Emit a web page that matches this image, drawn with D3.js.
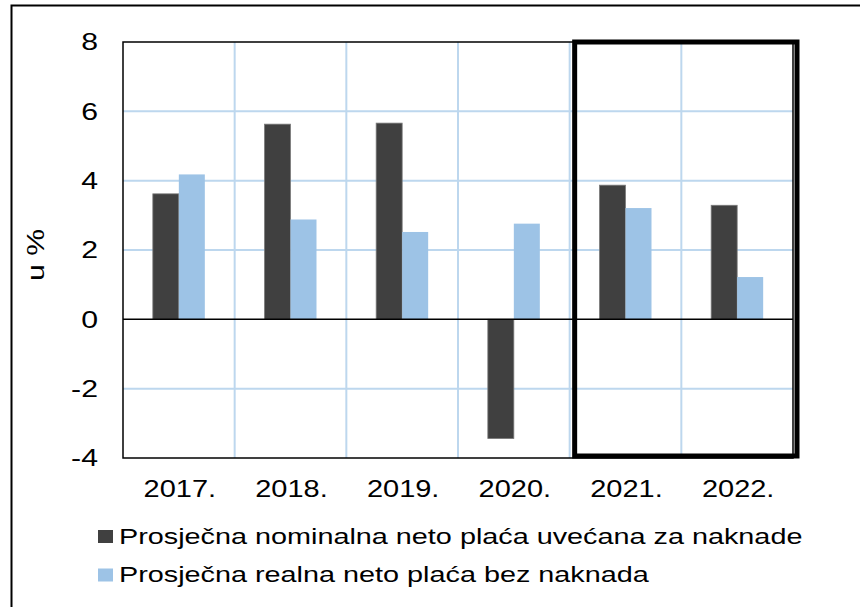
<!DOCTYPE html>
<html>
<head>
<meta charset="utf-8">
<script src="https://cdn.jsdelivr.net/npm/d3@7"></script>
<style>
  body { margin: 0; background: #fff; }
  text { font-family: "Liberation Sans", Arial, sans-serif; fill: #000; }
</style>
</head>
<body>
<div id="chart"></div>
<script>
// data
const years = ["2017.", "2018.", "2019.", "2020.", "2021.", "2022."];
const nominal = [3.62, 5.63, 5.66, -3.44, 3.87, 3.29];
const real = [4.18, 2.88, 2.52, 2.76, 3.21, 1.22];
const seriesNames = [
  "Prosječna nominalna neto plaća uvećana za naknade",
  "Prosječna realna neto plaća bez naknada"
];
const yTicks = [-4, -2, 0, 2, 4, 6, 8];

const width = 860,
  height = 607;
const colors = ["#404040", "#9DC3E6"];
const stretch = 1.26; // the picture is a bit wider than tall

const svg = d3
  .select("#chart")
  .append("svg")
  .attr("width", width)
  .attr("height", height);

// outer frame (runs off the right and bottom)
svg
  .append("rect")
  .attr("x", 11.5)
  .attr("y", 5.5)
  .attr("width", 860)
  .attr("height", 610)
  .attr("fill", "none")
  .attr("stroke", "#000")
  .attr("stroke-width", 2);

const plot = { left: 123, right: 793, top: 42, bottom: 458 };

const x = d3.scaleBand().domain(years).range([plot.left, plot.right]);
const y = d3.scaleLinear().domain([-4, 8]).range([plot.bottom, plot.top]);
const barW = 26;
const xs = d3
  .scaleBand()
  .domain([0, 1])
  .range([x.bandwidth() / 2 - barW, x.bandwidth() / 2 + barW]);

// grid
svg
  .selectAll("hgrid")
  .data(yTicks.filter((d) => d !== 0 && d !== -4 && d !== 8))
  .join("line")
  .attr("x1", plot.left)
  .attr("x2", plot.right)
  .attr("y1", (d) => y(d))
  .attr("y2", (d) => y(d))
  .attr("stroke", "#BDD7EE")
  .attr("stroke-width", 2);

svg
  .selectAll("vgrid")
  .data(years.slice(1))
  .join("line")
  .attr("x1", (d) => x(d))
  .attr("x2", (d) => x(d))
  .attr("y1", plot.top)
  .attr("y2", plot.bottom)
  .attr("stroke", "#BDD7EE")
  .attr("stroke-width", 2);

// bars
const rows = years.map((yr, i) => ({ yr, vals: [nominal[i], real[i]] }));
const groups = svg
  .selectAll("g.grp")
  .data(rows)
  .join("g")
  .attr("class", "grp")
  .attr("transform", (d) => `translate(${x(d.yr)},0)`);

groups
  .selectAll("rect")
  .data((d) => d.vals.map((v, k) => ({ v, k })))
  .join("rect")
  .attr("x", (d) => xs(d.k))
  .attr("width", xs.bandwidth())
  .attr("y", (d) => y(Math.max(0, d.v)))
  .attr("height", (d) => Math.abs(y(d.v) - y(0)))
  .attr("fill", (d) => colors[d.k])
  .attr("stroke", (d) => (d.k === 0 ? "#7a7a7a" : "none"))
  .attr("stroke-width", 0.8);

// plot border and zero line
svg
  .append("rect")
  .attr("x", plot.left)
  .attr("y", plot.top)
  .attr("width", plot.right - plot.left)
  .attr("height", plot.bottom - plot.top)
  .attr("fill", "none")
  .attr("stroke", "#000")
  .attr("stroke-width", 1.5);

svg
  .append("line")
  .attr("x1", plot.left)
  .attr("x2", plot.right)
  .attr("y1", y(0))
  .attr("y2", y(0))
  .attr("stroke", "#000")
  .attr("stroke-width", 1.5);

// highlight box around 2021-2022
const boxL = x("2021.") + 5,
  boxR = plot.right + 4;
svg
  .append("rect")
  .attr("x", boxL)
  .attr("y", y(8))
  .attr("width", boxR - boxL)
  .attr("height", y(-4) - y(8) - 2)
  .attr("fill", "none")
  .attr("stroke", "#000")
  .attr("stroke-width", 5);

// y tick labels
svg
  .selectAll("ytick")
  .data(yTicks)
  .join("text")
  .attr("text-anchor", "end")
  .attr("font-size", 24)
  .attr("dy", "0.35em")
  .attr("transform", (d) => `translate(98,${y(d)}) scale(${stretch},1)`)
  .text((d) => d);

// x labels
svg
  .selectAll("xlab")
  .data(years)
  .join("text")
  .attr("text-anchor", "middle")
  .attr("font-size", 23)
  .attr(
    "transform",
    (d) => `translate(${x(d) + x.bandwidth() / 2 + 1},497) scale(${stretch},1)`
  )
  .text((d) => d);

// y axis title
svg
  .append("text")
  .attr("text-anchor", "middle")
  .attr("font-size", 24)
  .attr("transform", "translate(44,255) rotate(-90) scale(1.26,1)")
  .text("u %");

// legend
const legend = svg
  .selectAll("g.leg")
  .data(seriesNames)
  .join("g")
  .attr("class", "leg")
  .attr("transform", (d, i) => `translate(98,${530 + i * 38.5})`);

legend
  .append("rect")
  .attr("width", 15)
  .attr("height", 13)
  .attr("fill", (d, i) => colors[i]);

const legText = legend
  .append("text")
  .attr("font-size", 23)
  .attr("y", 13.5)
  .text((d) => d);

// squeeze legend so the long line ends where it does in the source
const raw = legText.node().getComputedTextLength();
const legStretch = 684 / raw;
legText.attr("transform", `translate(21,0) scale(${legStretch},1)`);
</script>
</body>
</html>
